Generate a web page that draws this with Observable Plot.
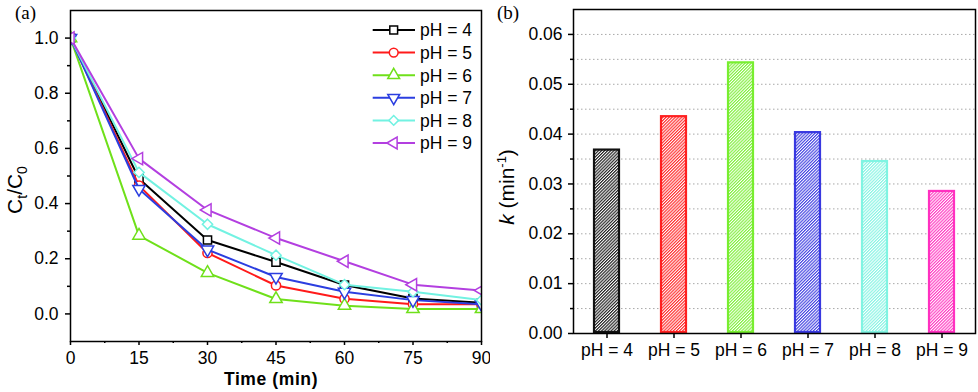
<!DOCTYPE html>
<html><head><meta charset="utf-8">
<script src="https://cdn.jsdelivr.net/npm/d3@7"></script>
<script src="https://cdn.jsdelivr.net/npm/@observablehq/plot@0.6"></script>
<style>
body{margin:0;background:#fff;}
#wrap{display:flex;width:978px;height:392px;overflow:hidden;}
#wrap svg{display:block;}
</style></head><body><div id="wrap"></div>
<script>
// ---------- data: panel (a) ----------
const times = [0, 15, 30, 45, 60, 75, 90];
const seriesNames = ["pH = 4", "pH = 5", "pH = 6", "pH = 7", "pH = 8", "pH = 9"];
const ph4 = [1.0, 0.49, 0.268, 0.188, 0.105, 0.056, 0.04];
const ph5 = [1.0, 0.465, 0.221, 0.103, 0.055, 0.035, 0.035];
const ph6 = [1.0, 0.284, 0.149, 0.054, 0.03, 0.018, 0.018];
const ph7 = [1.0, 0.453, 0.233, 0.134, 0.08, 0.05, 0.035];
const ph8 = [1.0, 0.513, 0.325, 0.213, 0.106, 0.08, 0.05];
const ph9 = [1.0, 0.563, 0.377, 0.275, 0.191, 0.106, 0.085];
const seriesValues = [ph4, ph5, ph6, ph7, ph8, ph9];
const lineColors = ["#000000", "#ff1a1a", "#6fe01a", "#2b3ee0", "#72f2e2", "#b33fe0"];
const symbols = ["square", "circle", "triangle", "triangle", "diamond2", "triangle"];
const rotations = [0, 0, 0, 180, 0, -90];
const yTicksA = [0, 0.2, 0.4, 0.6, 0.8, 1.0];
const yMinorA = [0.1, 0.3, 0.5, 0.7, 0.9];
const xTicksA = [0, 15, 30, 45, 60, 75, 90];
const xMinorA = [7.5, 22.5, 37.5, 52.5, 67.5, 82.5];

// ---------- data: panel (b) ----------
const barCategories = ["pH = 4", "pH = 5", "pH = 6", "pH = 7", "pH = 8", "pH = 9"];
const kValues = [0.037, 0.0437, 0.0545, 0.0405, 0.0347, 0.0287];
const barColors = ["#111111", "#ff2020", "#78ee30", "#3838e0", "#80f4e2", "#ff30c0"];
const yTicksB = [0, 0.01, 0.02, 0.03, 0.04, 0.05, 0.06];
const yMinorB = [0.005, 0.015, 0.025, 0.035, 0.045, 0.055];
const gridB = [0.005, 0.01, 0.015, 0.02, 0.025, 0.03, 0.035, 0.04, 0.045, 0.05, 0.055, 0.06];

const FONT = "'Liberation Sans', Arial, sans-serif";
const SERIF = "'Liberation Serif', 'Times New Roman', serif";
const wrap = document.getElementById("wrap");

// ---------- panel (a) ----------
const rows = [];
seriesNames.forEach((s, i) => times.forEach((t, j) => rows.push({s, t, v: seriesValues[i][j], rot: rotations[i]})));

const seriesMarks = [];
seriesNames.forEach((s) => {
  const d = rows.filter(r => r.s === s);
  seriesMarks.push(Plot.line(d, {x: "t", y: "v", stroke: "s", strokeWidth: 2, clip: true}));
  seriesMarks.push(Plot.dot(d, {x: "t", y: "v", stroke: "s", symbol: "s", rotate: "rot", fill: "white", r: 4.6, strokeWidth: 1.5, clip: true}));
});

const plotA = Plot.plot({
  width: 490, height: 392,
  marginLeft: 70, marginRight: 9, marginTop: 10, marginBottom: 51,
  style: {fontFamily: FONT, fontSize: "17.5px", color: "#000", background: "#fff"},
  x: {domain: [0, 90]},
  y: {domain: [-0.1, 1.1]},
  color: {domain: seriesNames, range: lineColors},
  symbol: {domain: seriesNames, range: symbols},
  marks: [
    Plot.axisY({ticks: yTicksA, tickFormat: d3.format(".1f"), tickSize: 5, tickPadding: 7, strokeWidth: 1.5, label: null}),
    Plot.axisY({ticks: yMinorA, tickFormat: () => "", tickSize: 3, strokeWidth: 1.5, label: null}),
    Plot.axisX({ticks: xTicksA, tickFormat: d3.format("d"), tickSize: 4, tickPadding: 6, strokeWidth: 1.5, label: null}),
    Plot.axisX({ticks: xMinorA, tickFormat: () => "", tickSize: 2, strokeWidth: 1.5, label: null}),
    ...seriesMarks,
    Plot.frame({stroke: "#000", strokeWidth: 1.5})
  ]
});
wrap.appendChild(plotA);

{
  const svg = d3.select(plotA);
  // legend
  const symMap = {square: d3.symbolSquare, circle: d3.symbolCircle, triangle: d3.symbolTriangle, diamond2: d3.symbolDiamond2};
  const lg = svg.append("g").attr("font-family", FONT).attr("font-size", 17.5).attr("text-anchor", "start");
  seriesNames.forEach((s, i) => {
    const y = 30 + i * 22.6;
    lg.append("line").attr("x1", 372.7).attr("x2", 415).attr("y1", y).attr("y2", y)
      .attr("stroke", lineColors[i]).attr("stroke-width", 2);
    lg.append("path").attr("d", d3.symbol(symMap[symbols[i]], Math.PI * 4.4 * 4.4)())
      .attr("transform", `translate(393.7,${y}) rotate(${rotations[i]})`)
      .attr("fill", "white").attr("stroke", lineColors[i]).attr("stroke-width", 1.5);
    lg.append("text").attr("x", 420).attr("y", y).attr("dy", "0.36em").text(s);
  });
  // labels
  svg.append("text").attr("x", 15).attr("y", 19).attr("text-anchor", "start").attr("font-family", SERIF)
    .attr("font-size", 19).text("(a)");
  svg.append("text").attr("x", 271).attr("y", 385).attr("text-anchor", "middle")
    .attr("font-family", FONT).attr("font-size", 17.5).attr("font-weight", "bold").attr("letter-spacing", "0.6px")
    .text("Time (min)");
  const yl = svg.append("text").attr("transform", "translate(22,190) rotate(-90)").attr("text-anchor", "middle")
    .attr("font-family", FONT).attr("font-size", 21);
  yl.append("tspan").text("C");
  yl.append("tspan").attr("font-size", 14).attr("dy", 5).text("t");
  yl.append("tspan").attr("dy", -5).text("/C");
  yl.append("tspan").attr("font-size", 14).attr("dy", 5).text("0");
}

// ---------- panel (b) ----------
const bars = barCategories.map((c, i) => ({c, k: kValues[i], stroke: barColors[i], fill: `url(#hatch${i})`}));

const plotB = Plot.plot({
  width: 488, height: 392,
  marginLeft: 83, marginRight: 3, marginTop: 9, marginBottom: 59,
  style: {fontFamily: FONT, fontSize: "17.5px", color: "#000", background: "#fff"},
  x: {domain: barCategories, paddingInner: 0.6, paddingOuter: 0.3},
  y: {domain: [0, 0.065]},
  color: {type: "identity"},
  marks: [
    Plot.ruleY(gridB, {stroke: "#a8a8a8", strokeWidth: 1, strokeDasharray: "1.5,2.5"}),
    Plot.axisY({ticks: yTicksB, tickFormat: d3.format(".2f"), tickSize: 5, tickPadding: 6, strokeWidth: 1.5, label: null}),
    Plot.axisY({ticks: yMinorB, tickFormat: () => "", tickSize: 3, strokeWidth: 1.5, label: null}),
    Plot.axisX({tickSize: 5, tickPadding: 5, strokeWidth: 1.5, label: null}),
    Plot.barY(bars, {x: "c", y: "k", fill: "fill", stroke: "stroke", strokeWidth: 2.2, inset: 1}),
    Plot.frame({stroke: "#000", strokeWidth: 1.5})
  ]
});
wrap.appendChild(plotB);

{
  const svg = d3.select(plotB);
  const defs = svg.insert("defs", ":first-child");
  barColors.forEach((col, i) => {
    const p = defs.append("pattern").attr("id", `hatch${i}`).attr("patternUnits", "userSpaceOnUse")
      .attr("width", 2.2).attr("height", 10).attr("patternTransform", "rotate(45)");
    p.append("rect").attr("width", 2.2).attr("height", 10).attr("fill", "white");
    p.append("line").attr("x1", 0.6).attr("x2", 0.6).attr("y1", 0).attr("y2", 10)
      .attr("stroke", col).attr("stroke-width", 1.1);
  });
  svg.append("text").attr("x", 7).attr("y", 19).attr("text-anchor", "start").attr("font-family", SERIF)
    .attr("font-size", 19).text("(b)");
  const yl = svg.append("text").attr("transform", "translate(24,187) rotate(-90)").attr("text-anchor", "middle")
    .attr("font-family", FONT).attr("font-size", 21);
  yl.append("tspan").attr("font-style", "italic").text("k");
  yl.append("tspan").text(" (min");
  yl.append("tspan").attr("font-size", 13).attr("dy", -8).text("-1");
  yl.append("tspan").attr("dy", 8).text(")");
}
</script></body></html>
